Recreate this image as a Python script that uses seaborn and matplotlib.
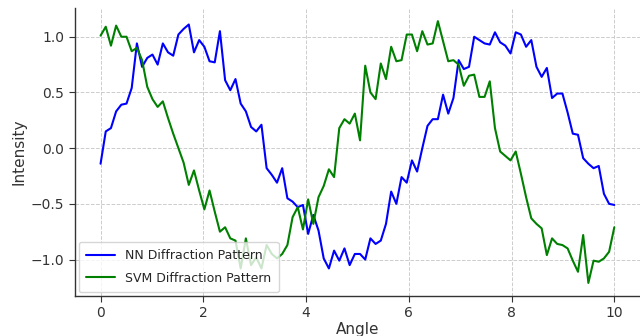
import numpy as np
import pandas as pd
import seaborn as sns
import matplotlib.pyplot as plt

# Sampled angles and the two diffraction intensity traces
angle = np.linspace(0, 10, 100)

nn_intensity = [
    -0.14, 0.15, 0.18, 0.33, 0.39, 0.40, 0.54, 0.94, 0.73, 0.81,
    0.84, 0.75, 0.94, 0.86, 0.83, 1.02, 1.07, 1.11, 0.86, 0.97,
    0.91, 0.78, 0.77, 1.05, 0.61, 0.52, 0.62, 0.40, 0.33, 0.19,
    0.15, 0.21, -0.18, -0.24, -0.31, -0.18, -0.45, -0.48, -0.53, -0.51,
    -0.77, -0.60, -0.74, -0.99, -1.08, -0.92, -1.01, -0.90, -1.05, -0.95,
    -0.95, -1.00, -0.81, -0.86, -0.83, -0.68, -0.39, -0.50, -0.26, -0.31,
    -0.11, -0.21, 0.00, 0.20, 0.26, 0.26, 0.48, 0.31, 0.45, 0.79,
    0.71, 0.73, 1.00, 0.97, 0.94, 0.93, 1.04, 0.95, 0.92, 0.85,
    1.04, 1.02, 0.91, 0.97, 0.73, 0.64, 0.72, 0.45, 0.49, 0.49,
    0.32, 0.13, 0.12, -0.09, -0.14, -0.18, -0.16, -0.41, -0.50, -0.51,
]

svm_intensity = [
    1.01, 1.09, 0.92, 1.10, 1.00, 1.00, 0.87, 0.90, 0.79, 0.55,
    0.44, 0.37, 0.42, 0.27, 0.13, 0.00, -0.13, -0.33, -0.20, -0.38,
    -0.55, -0.38, -0.57, -0.75, -0.71, -0.81, -0.83, -1.08, -0.81, -1.05,
    -0.98, -1.08, -0.87, -0.95, -0.99, -0.95, -0.87, -0.62, -0.53, -0.73,
    -0.46, -0.68, -0.44, -0.34, -0.19, -0.26, 0.18, 0.26, 0.22, 0.31,
    0.07, 0.74, 0.50, 0.44, 0.76, 0.62, 0.91, 0.78, 0.79, 1.02,
    1.02, 0.87, 1.05, 0.93, 0.94, 1.14, 0.96, 0.78, 0.79, 0.75,
    0.56, 0.65, 0.66, 0.46, 0.46, 0.60, 0.18, -0.03, -0.07, -0.11,
    -0.03, -0.23, -0.44, -0.63, -0.68, -0.72, -0.96, -0.81, -0.86, -0.87,
    -0.90, -1.01, -1.11, -0.78, -1.21, -1.01, -1.02, -0.99, -0.93, -0.71,
]

series_names = ["NN Diffraction Pattern", "SVM Diffraction Pattern"]
series_colors = ["blue", "green"]

df = pd.concat([
    pd.DataFrame({"Angle": angle, "Intensity": nn_intensity, "Pattern": series_names[0]}),
    pd.DataFrame({"Angle": angle, "Intensity": svm_intensity, "Pattern": series_names[1]}),
])

sns.set_style("ticks")
plt.rcParams["font.family"] = ["DejaVu Sans"]

fig = plt.figure(figsize=(6.4, 3.36), dpi=100)
ax = fig.add_axes([0.117, 0.119, 0.883, 0.857])

sns.lineplot(data=df, x="Angle", y="Intensity", hue="Pattern",
             palette=dict(zip(series_names, series_colors)),
             linewidth=1.5, ax=ax)

ax.grid(True, linestyle="--", color="#cccccc", linewidth=0.7)
ax.set_axisbelow(True)
for side in ("top", "right"):
    ax.spines[side].set_visible(False)
for side in ("left", "bottom"):
    ax.spines[side].set_color("#333333")
    ax.spines[side].set_linewidth(1.0)

ax.set_xticks([0, 2, 4, 6, 8, 10])
ax.set_yticks([-1.0, -0.5, 0.0, 0.5, 1.0])
ax.tick_params(axis="both", direction="out", length=4, color="#333333",
               labelsize=10, labelcolor="#333333")
ax.set_xlabel("Angle", fontsize=11, color="#333333", labelpad=1)
ax.set_ylabel("Intensity", fontsize=11, color="#333333", labelpad=3)

leg = ax.legend(loc="lower left", fontsize=9, frameon=True, borderaxespad=0.3,
                labelspacing=0.75, borderpad=0.6, handlelength=2.3)
leg.get_frame().set_edgecolor("#cccccc")
leg.get_frame().set_alpha(0.8)

fig.savefig("out.png", dpi=100)
